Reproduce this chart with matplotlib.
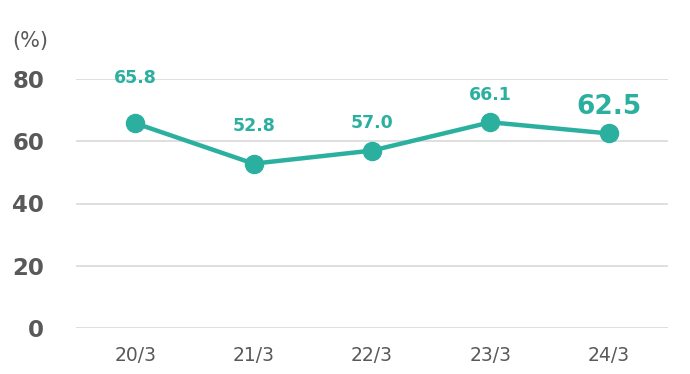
import matplotlib.pyplot as plt

# data
periods = ["20/3", "21/3", "22/3", "23/3", "24/3"]
ratios = [65.8, 52.8, 57.0, 66.1, 62.5]
y_ticks = [0, 20, 40, 60, 80]

teal = "#2bb0a0"
grey = "#595959"

fig = plt.figure(figsize=(6.9, 3.74), dpi=100)
ax = fig.add_axes([76 / 690, 46 / 374, 592 / 690, 249 / 374])

x = list(range(len(periods)))
ax.plot(x, ratios, color=teal, lw=3.2, marker="o", ms=13, zorder=3, clip_on=False)

# label offsets (pixels above point), last label larger
offsets = [45, 38, 28, 27, 26]
for i, v in enumerate(ratios):
    big = i == len(ratios) - 1
    ax.annotate(f"{v:.1f}", (i, v), xytext=(0, offsets[i] * 0.72),
                textcoords="offset points", ha="center", va="center",
                color=teal, fontweight="bold", fontsize=19 if big else 12.5,
                annotation_clip=False)

ax.set_xlim(-0.5, len(periods) - 0.5)
ax.set_ylim(0, 80)
ax.set_xticks(x)
ax.set_xticklabels(periods, fontsize=13.5, color=grey)
ax.set_yticks(y_ticks)
ax.set_yticklabels([str(t) for t in y_ticks], fontsize=16.5, fontweight="bold", color=grey)
ax.tick_params(length=0, axis="x", pad=13)
ax.tick_params(length=0, axis="y", pad=23)

ax.grid(axis="y", color="#d9d9d9", lw=1.2)
ax.set_axisbelow(True)
for s in ax.spines.values():
    s.set_visible(False)

fig.text(12 / 690, 1 - 41 / 374, "(%)", fontsize=15, color=grey, va="center", ha="left")

fig.savefig("out.png", dpi=100)
